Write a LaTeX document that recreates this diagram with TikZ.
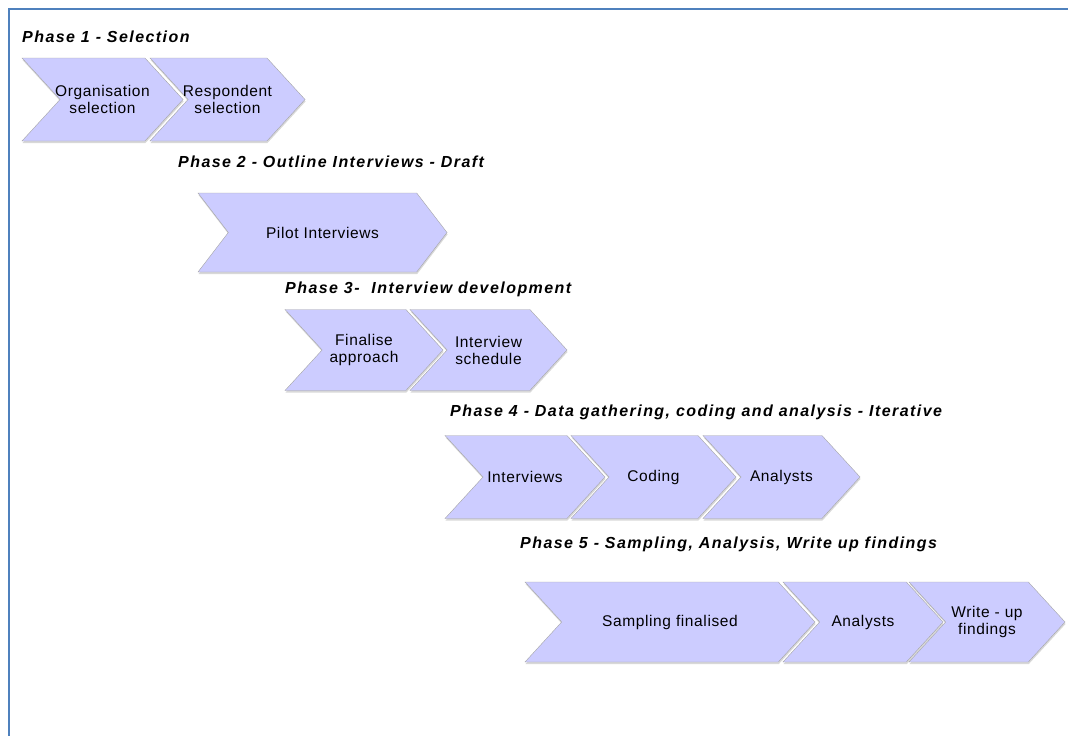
\documentclass[tikz,border=0pt]{standalone}
\usepackage{fontspec}
\setmainfont{Liberation Sans}
\newfontfamily\phasefont[LetterSpace=9]{Liberation Sans}
\newfontfamily\chevfont[LetterSpace=4]{Liberation Sans}
\usetikzlibrary{shapes.symbols, shadows}

\definecolor{chevfill}{RGB}{204,204,255}
\definecolor{chevline}{RGB}{165,165,165}
\definecolor{frameblue}{RGB}{79,129,189}

\tikzset{
  chevron/.style={signal, signal to=east, signal from=west, signal pointer angle=95,
    draw=chevline, fill=chevfill, inner xsep=-12pt, inner ysep=1pt, align=center,
    minimum height=83pt, font=\chevfont\fontsize{15.5}{17}\selectfont,
    drop shadow={shadow xshift=0.5pt, shadow yshift=-2pt, fill=gray!60, opacity=0.5}},
  phase/.style={anchor=west, inner sep=0pt,
    font=\phasefont\fontsize{16}{18}\selectfont\bfseries\itshape}
}

\begin{document}
\begin{tikzpicture}[x=1pt, y=-1pt]
  \useasboundingbox (0,0) rectangle (1068,736);
  % Frame
  \draw[frameblue, line width=2pt] (9,736) -- (9,9) -- (1068,9);

  % Phase 1
  \node[phase] (ph1) at (22,37) {Phase 1 - Selection};
  \node[chevron, minimum width=161pt] (orgsel) at (102.5,99.5) {Organisation\\selection};
  \node[chevron, minimum width=155pt] (respsel) at (227.5,99.5) {Respondent\\selection};

  % Phase 2
  \node[phase] (ph2) at (178,162) {Phase 2 - Outline Interviews - Draft};
  \node[chevron, minimum width=249pt, minimum height=79pt, signal pointer angle=105]
    (pilot) at (322.5,232.5) {Pilot Interviews};

  % Phase 3
  \node[phase] (ph3) at (285,289) {Phase 3-\ \ Interview development};
  \node[chevron, minimum width=158pt, minimum height=81pt] (final) at (364,350) {Finalise\\approach};
  \node[chevron, minimum width=157pt, minimum height=81pt] (sched) at (488.5,350) {Interview\\schedule};

  % Phase 4
  \node[phase] (ph4) at (450,412) {Phase 4 - Data gathering, coding and analysis - Iterative};
  \node[chevron, minimum width=160pt] (interv) at (525,477) {Interviews};
  \node[chevron, minimum width=165pt] (coding) at (653.5,477) {Coding};
  \node[chevron, minimum width=157pt] (analy) at (781.5,477) {Analysts};

  % Phase 5
  \node[phase] (ph5) at (520,544) {Phase 5 - Sampling, Analysis, Write up findings};
  \node[chevron, minimum width=290pt, minimum height=80pt] (sampl) at (670,622) {Sampling finalised};
  \node[chevron, minimum width=160pt, minimum height=80pt] (analz) at (863,622) {Analysts};
  \node[chevron, minimum width=156pt, minimum height=80pt] (writeup) at (987,622) {Write - up\\findings};
\end{tikzpicture}
\end{document}
